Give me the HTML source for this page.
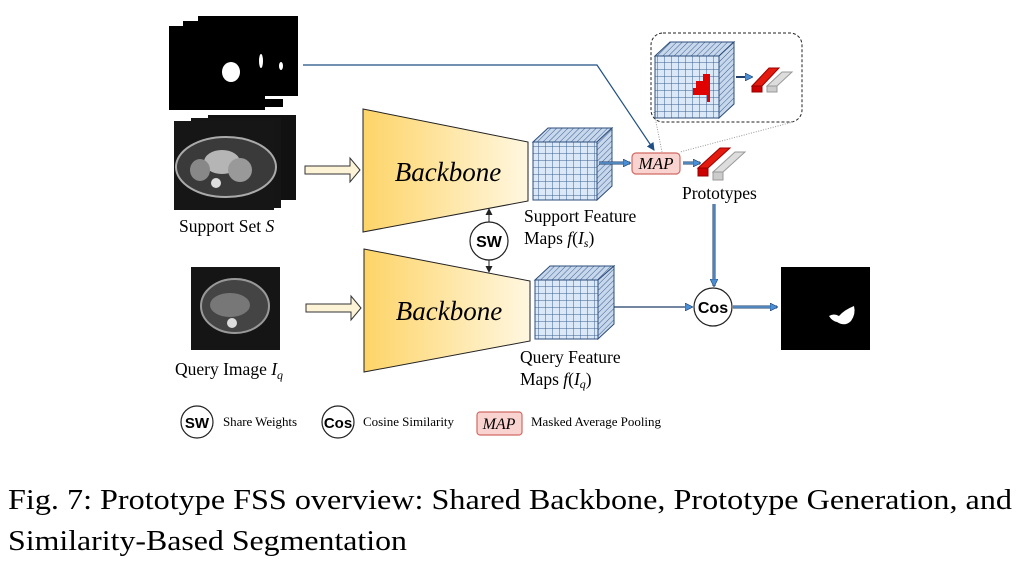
<!DOCTYPE html>
<html><head><meta charset="utf-8"><style>
html,body{margin:0;padding:0;background:#fff;}
svg{display:block;font-family:"Liberation Serif",serif;}
</style></head><body>
<svg width="1021" height="576" viewBox="0 0 1021 576" xmlns="http://www.w3.org/2000/svg">
<defs>
<linearGradient id="bb" x1="0" x2="1" y1="0" y2="0"><stop offset="0" stop-color="#fdd468"/><stop offset="1" stop-color="#fff7e0"/></linearGradient>
<pattern id="grid" width="7" height="7" patternUnits="userSpaceOnUse"><rect width="7" height="7" fill="#dbe8f8"/><path d="M7 0V7H0" fill="none" stroke="#3b5f8f" stroke-width="1"/></pattern>
<pattern id="hatch" width="4" height="4" patternUnits="userSpaceOnUse" patternTransform="rotate(45)"><rect width="4" height="4" fill="#c7d7ec"/><line x1="0" y1="0" x2="0" y2="4" stroke="#3b5f8f" stroke-width="1"/></pattern>
<marker id="ah" markerWidth="8" markerHeight="8" refX="7" refY="4" orient="auto" markerUnits="userSpaceOnUse"><path d="M0 0L8 4L0 8z" fill="#4a8fd6" stroke="#1f3f6a" stroke-width="0.6"/></marker>
<marker id="ak" markerWidth="7" markerHeight="7" refX="6" refY="3.5" orient="auto" markerUnits="userSpaceOnUse"><path d="M0 0L7 3.5L0 7z" fill="#222"/></marker>
<marker id="an" markerWidth="8" markerHeight="8" refX="7" refY="4" orient="auto" markerUnits="userSpaceOnUse"><path d="M0 0L8 4L0 8z" fill="#1f4f85"/></marker>
</defs>

<!-- mask stack -->
<rect x="198" y="16" width="100" height="80" fill="#000"/>
<rect x="183" y="21" width="100" height="86" fill="#000"/>
<rect x="169" y="26" width="96" height="84" fill="#000"/>
<rect x="265" y="96" width="33" height="3" fill="#fff"/>
<ellipse cx="231" cy="72" rx="9" ry="10" fill="#fff"/>
<ellipse cx="261" cy="61" rx="2" ry="7" fill="#fff"/>
<ellipse cx="281" cy="66" rx="2" ry="4" fill="#fff"/>
<!-- support CT stack -->
<rect x="208" y="115" width="88" height="85" fill="#111"/>
<rect x="191" y="118" width="90" height="90" fill="#151515"/>
<rect x="174" y="121" width="100" height="89" fill="#161616"/>
<ellipse cx="226" cy="167" rx="50" ry="30" fill="#3a3a3a" stroke="#aaa" stroke-width="2"/>
<ellipse cx="222" cy="162" rx="18" ry="12" fill="#b5b5b5"/>
<ellipse cx="200" cy="170" rx="10" ry="11" fill="#888"/>
<ellipse cx="240" cy="170" rx="12" ry="12" fill="#999"/>
<circle cx="216" cy="183" r="5" fill="#ddd"/>
<!-- query CT -->
<rect x="191" y="267" width="89" height="83" fill="#151515"/>
<ellipse cx="235" cy="306" rx="34" ry="27" fill="#444" stroke="#999" stroke-width="2"/>
<ellipse cx="230" cy="305" rx="20" ry="12" fill="#777"/>
<circle cx="232" cy="323" r="5" fill="#ddd"/>

<text x="179" y="232" font-size="17.5">Support Set <tspan font-style="italic">S</tspan></text>
<text x="175" y="375" font-size="17.5">Query Image <tspan font-style="italic">I</tspan><tspan font-style="italic" font-size="12" dy="4">q</tspan></text>

<!-- hollow arrows -->
<path d="M305 166H350V158L360 170L350 182V174H305z" fill="#fdf3d6" stroke="#333" stroke-width="1"/>
<path d="M306 304H351V296L361 308L351 320V312H306z" fill="#fdf3d6" stroke="#333" stroke-width="1"/>

<!-- backbones -->
<path d="M363 109L528 142V201L363 232z" fill="url(#bb)" stroke="#222" stroke-width="1"/>
<path d="M364 249L530 281V341L364 372z" fill="url(#bb)" stroke="#222" stroke-width="1"/>
<text x="448" y="181" font-size="27" font-style="italic" text-anchor="middle">Backbone</text>
<text x="449" y="320" font-size="27" font-style="italic" text-anchor="middle">Backbone</text>

<!-- SW -->
<circle cx="489" cy="241" r="19" fill="#fff" stroke="#222" stroke-width="1.2"/>
<text x="489" y="247" font-size="16" font-weight="bold" font-family="Liberation Sans,sans-serif" text-anchor="middle">SW</text>
<line x1="489" y1="222" x2="489" y2="209" stroke="#222" marker-end="url(#ak)"/>
<line x1="489" y1="260" x2="489" y2="272" stroke="#222" marker-end="url(#ak)"/>

<!-- cube 1 -->
<path d="M533 142L548 128H612L597 142z" fill="url(#hatch)" stroke="#2c4d7a"/>
<path d="M597 142L612 128V186L597 200z" fill="url(#hatch)" stroke="#2c4d7a"/>
<rect x="533" y="142" width="64" height="58" fill="url(#grid)" stroke="#2c4d7a"/>
<!-- cube 2 -->
<path d="M535 280L550 266H614L598 280z" fill="url(#hatch)" stroke="#2c4d7a"/>
<path d="M598 280L614 266V324L598 339z" fill="url(#hatch)" stroke="#2c4d7a"/>
<rect x="535" y="280" width="63" height="59" fill="url(#grid)" stroke="#2c4d7a"/>

<text x="524" y="222" font-size="17.5">Support Feature</text>
<text x="524" y="244" font-size="17.5">Maps  <tspan font-style="italic">f</tspan>(<tspan font-style="italic">I</tspan><tspan font-size="12" font-style="italic" dy="3">s</tspan><tspan dy="-3">)</tspan></text>
<text x="520" y="363" font-size="17.5">Query Feature</text>
<text x="520" y="385" font-size="17.5">Maps  <tspan font-style="italic">f</tspan>(<tspan font-style="italic">I</tspan><tspan font-size="12" font-style="italic" dy="3">q</tspan><tspan dy="-3">)</tspan></text>

<!-- mask line -->
<polyline points="303,65 597,65 654,150" fill="none" stroke="#1f4f85" stroke-width="1.2" marker-end="url(#an)"/>

<!-- dashed zoom box -->
<rect x="651" y="33" width="151" height="89" rx="12" fill="none" stroke="#222" stroke-dasharray="3,2"/>
<line x1="654" y1="112" x2="662" y2="152" stroke="#999" stroke-dasharray="1,1.5"/>
<line x1="793" y1="122" x2="680" y2="152" stroke="#999" stroke-dasharray="1,1.5"/>
<path d="M655 56L670 42H734L719 56z" fill="url(#hatch)" stroke="#2c4d7a"/>
<path d="M719 56L734 42V104L719 118z" fill="url(#hatch)" stroke="#2c4d7a"/>
<rect x="655" y="56" width="64" height="62" fill="url(#grid)" stroke="#2c4d7a"/>
<path d="M703 74h7v28h-3v-7h-14v-7h3v-7h7z" fill="#e00000"/>
<line x1="736" y1="77" x2="752" y2="77" stroke="#1f3f6a" stroke-width="2" marker-end="url(#ah)"/>
<path d="M767 86L782 72H792L777 86z" fill="#ddd" stroke="#999"/><rect x="767" y="86" width="10" height="6" fill="#ccc" stroke="#999"/>
<path d="M752 86L769 68H779L762 86z" fill="#e31a0d" stroke="#900"/><rect x="752" y="86" width="10" height="6" fill="#c00" stroke="#900"/>

<!-- MAP -->
<line x1="599" y1="163" x2="630" y2="163" stroke="#1f3f6a" stroke-width="3"/>
<line x1="599" y1="163" x2="630" y2="163" stroke="#6fb0ef" stroke-width="1.2" marker-end="url(#ah)"/>
<rect x="632" y="153" width="48" height="21" rx="4" fill="#f9d3cf" stroke="#d16a63" stroke-width="1.2"/>
<text x="656" y="169" font-size="17" font-style="italic" text-anchor="middle">MAP</text>
<line x1="683" y1="163" x2="700" y2="163" stroke="#1f3f6a" stroke-width="3"/>
<line x1="683" y1="163" x2="700" y2="163" stroke="#6fb0ef" stroke-width="1.2" marker-end="url(#ah)"/>
<!-- prototypes -->
<path d="M713 172L735 152H745L723 172z" fill="#ddd" stroke="#999"/><rect x="713" y="172" width="10" height="8" fill="#ccc" stroke="#999"/>
<path d="M698 168L720 148H730L708 168z" fill="#e31a0d" stroke="#900"/><rect x="698" y="168" width="10" height="8" fill="#c00" stroke="#900"/>
<text x="682" y="199" font-size="17.5">Prototypes</text>

<!-- prototypes -> cos -->
<line x1="714" y1="204" x2="714" y2="286" stroke="#1f3f6a" stroke-width="3"/>
<line x1="714" y1="204" x2="714" y2="286" stroke="#6fb0ef" stroke-width="1.2" marker-end="url(#ah)"/>
<line x1="614" y1="307" x2="692" y2="307" stroke="#1f3f6a" stroke-width="1.3" marker-end="url(#ah)"/>
<circle cx="713" cy="307" r="19" fill="#fff" stroke="#222" stroke-width="1.2"/>
<text x="713" y="313" font-size="16" font-weight="bold" font-family="Liberation Sans,sans-serif" text-anchor="middle">Cos</text>
<line x1="733" y1="307" x2="777" y2="307" stroke="#1f3f6a" stroke-width="3"/>
<line x1="733" y1="307" x2="777" y2="307" stroke="#6fb0ef" stroke-width="1.2" marker-end="url(#ah)"/>
<!-- output -->
<rect x="781" y="267" width="89" height="83" fill="#000"/>
<path d="M829 316q5-3 10 0q5-6 15-10q2 8-3 15q-6 6-14 1q-5-1-8-6z" fill="#fff"/>

<!-- legend -->
<circle cx="197" cy="422" r="16" fill="#fff" stroke="#222" stroke-width="1.2"/>
<text x="197" y="428" font-size="15" font-weight="bold" font-family="Liberation Sans,sans-serif" text-anchor="middle">SW</text>
<text x="223" y="426" font-size="13" textLength="74">Share Weights</text>
<circle cx="338" cy="422" r="16" fill="#fff" stroke="#222" stroke-width="1.2"/>
<text x="338" y="428" font-size="15" font-weight="bold" font-family="Liberation Sans,sans-serif" text-anchor="middle">Cos</text>
<text x="363" y="426" font-size="13" textLength="91">Cosine Similarity</text>
<rect x="477" y="412" width="45" height="23" rx="3" fill="#f9d3cf" stroke="#d16a63" stroke-width="1.2"/>
<text x="499" y="429" font-size="16" font-style="italic" text-anchor="middle">MAP</text>
<text x="531" y="426" font-size="13" textLength="130">Masked Average Pooling</text>

<!-- caption -->
<text x="8" y="509" font-size="29" textLength="1004" lengthAdjust="spacingAndGlyphs">Fig. 7: Prototype FSS overview: Shared Backbone, Prototype Generation, and</text>
<text x="8" y="550" font-size="29" textLength="399" lengthAdjust="spacingAndGlyphs">Similarity-Based Segmentation</text>
</svg>
</body></html>
